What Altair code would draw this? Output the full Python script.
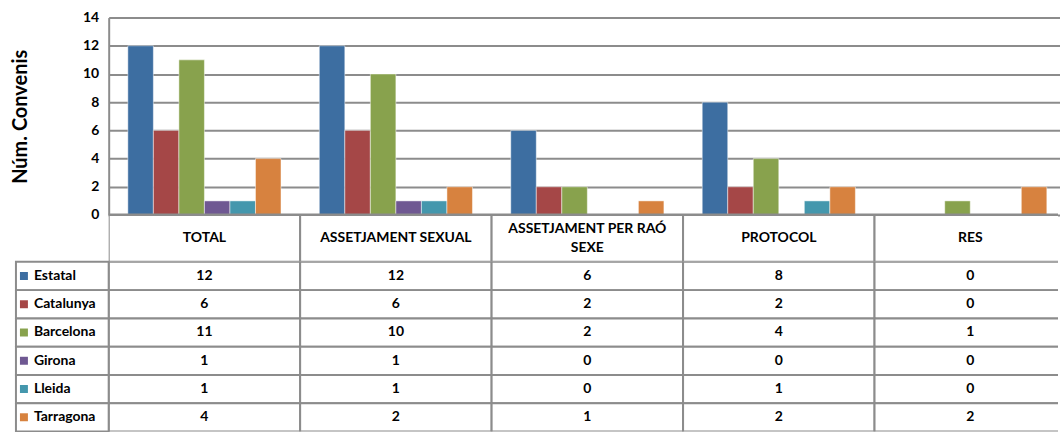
import altair as alt
import pandas as pd

# Categories (table columns) and series (table rows)
categories = ["TOTAL", "ASSETJAMENT SEXUAL", "ASSETJAMENT PER RAÓ SEXE", "PROTOCOL", "RES"]
series = ["Estatal", "Catalunya", "Barcelona", "Girona", "Lleida", "Tarragona"]

# Number of agreements per series, in category order
estatal = [12, 12, 6, 8, 0]
catalunya = [6, 6, 2, 2, 0]
barcelona = [11, 10, 2, 4, 1]
girona = [1, 1, 0, 0, 0]
lleida = [1, 1, 0, 1, 0]
tarragona = [4, 2, 1, 2, 2]

colors = ["#3d6ea1", "#a54747", "#88a24d", "#6f5892", "#4497ad", "#d7823f"]
y_ticks = [0, 2, 4, 6, 8, 10, 12, 14]

values = {
    "Estatal": estatal,
    "Catalunya": catalunya,
    "Barcelona": barcelona,
    "Girona": girona,
    "Lleida": lleida,
    "Tarragona": tarragona,
}
df = pd.DataFrame(
    [{"cat": c, "series": s, "value": values[s][i]}
     for s in series for i, c in enumerate(categories)]
)
hdf = pd.DataFrame({
    "cat": categories,
    "label": [c.replace("RAÓ ", "RAÓ\n") for c in categories],
})
ldf = pd.DataFrame({"series": series, "col": ["legend"] * len(series)})

FONT = "Lato"
GRID = "#8c8c8c"
W = 952

# Category band scale shared by the bars and the data table
x_cat = alt.X(
    "cat:N", sort=categories,
    scale=alt.Scale(domain=categories, range=[0, 960], paddingInner=0, paddingOuter=0),
    axis=None,
)
color = alt.Color("series:N", scale=alt.Scale(domain=series, range=colors), legend=None)

y_axis = alt.Axis(
    values=y_ticks, title="Núm. Convenis",
    grid=True, gridColor=GRID, gridWidth=2,
    domain=True, domainColor=GRID, domainWidth=2,
    ticks=False, labelOverlap=False,
    labelFont=FONT, labelFontSize=14, labelFontWeight="bold",
    labelColor="black", labelPadding=10,
    titleFont=FONT, titleFontSize=20, titleFontWeight="bold",
    titleColor="black", titlePadding=52,
)
y_scale = alt.Scale(domain=[0, 14], nice=False)

bars = alt.Chart(df).transform_filter("datum.value > 0").mark_bar(
    stroke="white", strokeWidth=0.8, strokeOpacity=0.6
).encode(
    x=x_cat,
    xOffset=alt.XOffset(
        "series:N", sort=series,
        scale=alt.Scale(domain=series, paddingInner=0, paddingOuter=0.75),
    ),
    y=alt.Y("value:Q", scale=y_scale, axis=y_axis),
    color=color,
)
baseline = alt.Chart(pd.DataFrame({"value": [0]})).mark_rule(
    color=GRID, strokeWidth=3
).encode(y=alt.Y("value:Q", scale=y_scale, axis=y_axis))

top = alt.layer(bars, baseline).properties(width=W, height=198)

# Table header row
head_cells = alt.Chart(hdf).mark_rect(
    fill="white", stroke=GRID, strokeWidth=2, clip=True
).encode(x=x_cat)
head_style = dict(
    font=FONT, fontSize=14, fontWeight="bold", color="black",
    lineBreak="\n", lineHeight=19, clip=True,
)
head_one = alt.Chart(hdf).transform_filter(
    "indexof(datum.label, '\\n') < 0"
).mark_text(**head_style).encode(x=x_cat, text="label:N")
head_two = alt.Chart(hdf).transform_filter(
    "indexof(datum.label, '\\n') >= 0"
).mark_text(dy=-9.5, **head_style).encode(x=x_cat, text="label:N")
header = alt.layer(head_cells, head_one, head_two).properties(width=W, height=47)

# Table body with the series key column on its left
y_row = alt.Y(
    "series:N", sort=series,
    scale=alt.Scale(domain=series, paddingInner=0, paddingOuter=0),
    axis=None,
)
body_cells = alt.Chart(df).mark_rect(
    fill="white", stroke=GRID, strokeWidth=2, clip=True
).encode(x=x_cat, y=y_row)
body_text = alt.Chart(df).mark_text(
    font=FONT, fontSize=14, fontWeight="bold", color="black", clip=True
).encode(x=x_cat, y=y_row, text="value:Q")

x_leg = alt.X("col:N", scale=alt.Scale(range=[-93, 0], paddingInner=0, paddingOuter=0), axis=None)
leg_cells = alt.Chart(ldf).mark_rect(
    fill="white", stroke=GRID, strokeWidth=2
).encode(x=x_leg, y=y_row)
leg_sq = alt.Chart(ldf).mark_square(size=64, opacity=1, xOffset=-38.5).encode(
    x=x_leg, y=y_row, color=color
)
leg_text = alt.Chart(ldf).mark_text(
    font=FONT, fontSize=14, fontWeight="bold", color="black", align="left", dx=-28.5
).encode(x=x_leg, y=y_row, text="series:N")
body = alt.layer(body_cells, body_text, leg_cells, leg_sq, leg_text).resolve_scale(
    x="independent"
).properties(width=W, height=170)

chart = alt.vconcat(top, header, body, spacing=0, bounds="flush").properties(
    padding={"left": 10, "top": 10, "right": 0, "bottom": 0}
).configure_view(strokeWidth=0)

chart.save("out.html", embed_options={"renderer": "svg", "actions": False})
